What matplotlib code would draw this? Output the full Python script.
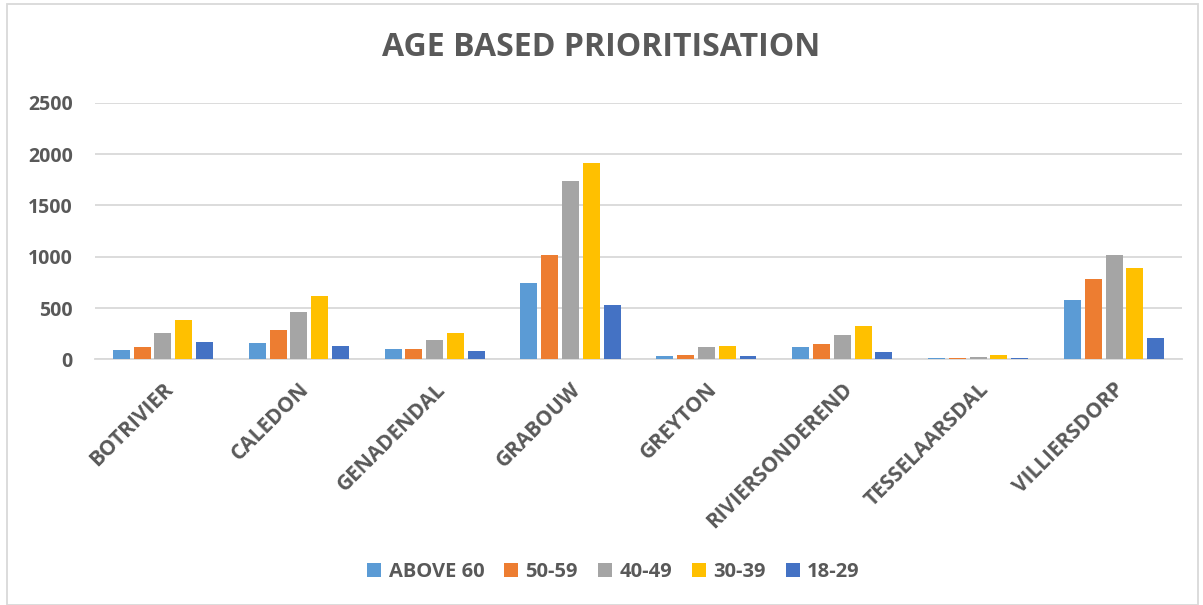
import numpy as np
import matplotlib.pyplot as plt
from matplotlib.patches import Rectangle

towns = ['BOTRIVIER', 'CALEDON', 'GENADENDAL', 'GRABOUW', 'GREYTON',
         'RIVIERSONDEREND', 'TESSELAARSDAL', 'VILLIERSDORP']
age_groups = ['ABOVE 60', '50-59', '40-49', '30-39', '18-29']

above_60 = [90, 160, 105, 740, 36, 116, 10, 575]
age_50_59 = [120, 290, 105, 1020, 40, 148, 10, 785]
age_40_49 = [255, 460, 190, 1735, 116, 235, 20, 1020]
age_30_39 = [380, 615, 255, 1910, 135, 322, 40, 895]
age_18_29 = [170, 135, 80, 530, 36, 68, 10, 205]

series = [above_60, age_50_59, age_40_49, age_30_39, age_18_29]
colors = ['#5B9BD5', '#ED7D31', '#A5A5A5', '#FFC000', '#4472C4']
text_col = '#595959'
grid_col = '#D9D9D9'

plt.rcParams['font.family'] = ['Open Sans', 'DejaVu Sans']

fig = plt.figure(figsize=(12.03, 6.05), dpi=100)
ax = fig.add_axes([0.079, 0.406, 0.9035, 0.424])

x = np.arange(len(towns))
step = 0.153
width = 0.125
for i, (vals, col) in enumerate(zip(series, colors)):
    ax.bar(x + (i - 2) * step, vals, width, color=col, label=age_groups[i],
           zorder=3)

ax.set_xlim(-0.5, len(towns) - 0.5)
ax.set_ylim(0, 2500)
ax.set_yticks(range(0, 2501, 500))
ax.yaxis.grid(True, color=grid_col, linewidth=1.3, zorder=0)
ax.tick_params(axis='y', length=0, pad=16, labelsize=14, labelcolor=text_col)
ax.tick_params(axis='x', length=0, pad=14)
for lab in ax.get_yticklabels():
    lab.set_fontweight('bold')
for side in ['top', 'right', 'left']:
    ax.spines[side].set_visible(False)
ax.spines['bottom'].set_color(grid_col)
ax.spines['bottom'].set_linewidth(1.3)

ax.set_xticks(x)
ax.set_xticklabels(towns, rotation=45, ha='right', rotation_mode='anchor',
                   fontsize=15, fontweight='bold', color=text_col)

fig.text(0.5, 0.922, 'AGE BASED PRIORITISATION', ha='center', va='center',
         fontsize=23, fontweight='bold', color=text_col)

leg = fig.legend(loc='center', bbox_to_anchor=(0.51, 0.055), ncol=5,
                 frameon=False, handlelength=0.7, handleheight=0.7,
                 handletextpad=0.35, columnspacing=1.0,
                 prop={'size': 14.5, 'weight': 'bold'})
for t in leg.get_texts():
    t.set_color(text_col)

# light frame around the whole chart
fig.add_artist(Rectangle((0.006, 0.0), 0.99, 0.993, transform=fig.transFigure,
                         fill=False, edgecolor=grid_col, linewidth=1.3))

fig.savefig('out.png', dpi=100, facecolor='white')
